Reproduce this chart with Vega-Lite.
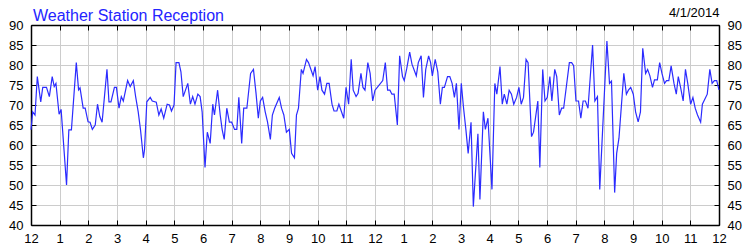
{
  "$schema": "https://vega.github.io/schema/vega-lite/v6.json",
  "width": 688,
  "height": 200,
  "autosize": {"type": "none"},
  "padding": {"left": 31, "top": 25, "right": 31, "bottom": 25},
  "background": "white",
  "title": {"text": "Weather Station Reception", "anchor": "start", "frame": "group", "color": "#2424ff", "font": "Liberation Sans", "fontSize": 16, "fontWeight": "normal", "offset": -17, "dx": 2},
  "config": {
    "view": {"stroke": null},
    "axis": {
      "domainColor": "#000000", "domainWidth": 1.5,
      "tickColor": "#000000", "tickSize": -5, "tickWidth": 1,
      "gridColor": "#cccccc", "gridWidth": 1,
      "labelFont": "Liberation Sans", "labelFontSize": 13, "labelColor": "#000000",
      "titleFont": "Liberation Sans", "titleFontSize": 13, "titleFontWeight": "normal", "titleColor": "#000000"
    }
  },
  "data": {"values": [
    {"hour": 0, "signal": 63.8}, {"hour": 0.06, "signal": 68.3}, {"hour": 0.14, "signal": 67.5}, {"hour": 0.22, "signal": 77.1},
    {"hour": 0.34, "signal": 70.8}, {"hour": 0.41, "signal": 74.4}, {"hour": 0.54, "signal": 74.4}, {"hour": 0.64, "signal": 72.1},
    {"hour": 0.74, "signal": 77.1}, {"hour": 0.81, "signal": 74.6}, {"hour": 0.87, "signal": 75.4}, {"hour": 0.98, "signal": 67.7},
    {"hour": 1.05, "signal": 68.9}, {"hour": 1.24, "signal": 50}, {"hour": 1.32, "signal": 63.8}, {"hour": 1.41, "signal": 63.8},
    {"hour": 1.58, "signal": 80.6}, {"hour": 1.66, "signal": 73.8}, {"hour": 1.71, "signal": 74.3}, {"hour": 1.82, "signal": 69.2},
    {"hour": 1.89, "signal": 69.2}, {"hour": 1.99, "signal": 65.8}, {"hour": 2.06, "signal": 65.7}, {"hour": 2.14, "signal": 63.9},
    {"hour": 2.24, "signal": 65}, {"hour": 2.32, "signal": 70.2}, {"hour": 2.40, "signal": 67.1}, {"hour": 2.48, "signal": 65.7},
    {"hour": 2.65, "signal": 78.9}, {"hour": 2.72, "signal": 70.8}, {"hour": 2.79, "signal": 70.8}, {"hour": 2.91, "signal": 74.4},
    {"hour": 2.98, "signal": 74.4}, {"hour": 3.07, "signal": 69.2}, {"hour": 3.15, "signal": 72.1}, {"hour": 3.22, "signal": 71},
    {"hour": 3.37, "signal": 76.1}, {"hour": 3.46, "signal": 74.6}, {"hour": 3.57, "signal": 76.1}, {"hour": 3.65, "signal": 72.1},
    {"hour": 3.74, "signal": 68.3}, {"hour": 3.82, "signal": 63.8}, {"hour": 3.92, "signal": 56.8}, {"hour": 3.96, "signal": 58.8},
    {"hour": 4.04, "signal": 70.8}, {"hour": 4.16, "signal": 71.9}, {"hour": 4.23, "signal": 71}, {"hour": 4.37, "signal": 70.7},
    {"hour": 4.46, "signal": 67.5}, {"hour": 4.54, "signal": 69}, {"hour": 4.63, "signal": 66.7}, {"hour": 4.75, "signal": 70.2},
    {"hour": 4.83, "signal": 70}, {"hour": 4.90, "signal": 68.5}, {"hour": 4.99, "signal": 70}, {"hour": 5.06, "signal": 80.6},
    {"hour": 5.16, "signal": 80.6}, {"hour": 5.23, "signal": 78.3}, {"hour": 5.31, "signal": 72.1}, {"hour": 5.47, "signal": 75.4},
    {"hour": 5.56, "signal": 70.2}, {"hour": 5.64, "signal": 72.1}, {"hour": 5.72, "signal": 70.2}, {"hour": 5.82, "signal": 72.7},
    {"hour": 5.90, "signal": 72.1}, {"hour": 5.97, "signal": 68.3}, {"hour": 6.07, "signal": 54.4}, {"hour": 6.15, "signal": 63.2},
    {"hour": 6.25, "signal": 60.4}, {"hour": 6.34, "signal": 70.2}, {"hour": 6.40, "signal": 67.5}, {"hour": 6.51, "signal": 73.7},
    {"hour": 6.60, "signal": 67.5}, {"hour": 6.67, "signal": 63.8}, {"hour": 6.74, "signal": 61.4}, {"hour": 6.83, "signal": 69.2},
    {"hour": 6.92, "signal": 65.7}, {"hour": 7.0, "signal": 65.7}, {"hour": 7.10, "signal": 63.9}, {"hour": 7.18, "signal": 63.9},
    {"hour": 7.25, "signal": 71.9}, {"hour": 7.35, "signal": 60.4}, {"hour": 7.42, "signal": 69.2}, {"hour": 7.53, "signal": 69.2},
    {"hour": 7.66, "signal": 77.9}, {"hour": 7.76, "signal": 78.9}, {"hour": 7.85, "signal": 72.9}, {"hour": 7.93, "signal": 66.7},
    {"hour": 8.0, "signal": 71}, {"hour": 8.08, "signal": 71.9}, {"hour": 8.17, "signal": 68.3}, {"hour": 8.25, "signal": 65.8},
    {"hour": 8.35, "signal": 61.4}, {"hour": 8.42, "signal": 67.5}, {"hour": 8.50, "signal": 69.2}, {"hour": 8.66, "signal": 71.9},
    {"hour": 8.74, "signal": 69.2}, {"hour": 8.82, "signal": 67.5}, {"hour": 8.91, "signal": 63.2}, {"hour": 9.01, "signal": 63.9},
    {"hour": 9.09, "signal": 57.9}, {"hour": 9.19, "signal": 56.8}, {"hour": 9.26, "signal": 67.5}, {"hour": 9.33, "signal": 69.2},
    {"hour": 9.43, "signal": 78.9}, {"hour": 9.49, "signal": 77.9}, {"hour": 9.61, "signal": 81.4}, {"hour": 9.68, "signal": 80.6},
    {"hour": 9.84, "signal": 77.3}, {"hour": 9.91, "signal": 79.6}, {"hour": 10.0, "signal": 73.7}, {"hour": 10.08, "signal": 77.1},
    {"hour": 10.15, "signal": 73.7}, {"hour": 10.24, "signal": 72.7}, {"hour": 10.32, "signal": 75.4}, {"hour": 10.40, "signal": 75.4},
    {"hour": 10.50, "signal": 70.2}, {"hour": 10.57, "signal": 68.5}, {"hour": 10.67, "signal": 68.5}, {"hour": 10.74, "signal": 70.2},
    {"hour": 10.91, "signal": 66.7}, {"hour": 10.99, "signal": 74.4}, {"hour": 11.08, "signal": 70.2}, {"hour": 11.17, "signal": 81.4},
    {"hour": 11.24, "signal": 73.7}, {"hour": 11.34, "signal": 72.1}, {"hour": 11.41, "signal": 72.9}, {"hour": 11.51, "signal": 77.9},
    {"hour": 11.58, "signal": 74.4}, {"hour": 11.65, "signal": 73.7}, {"hour": 11.75, "signal": 80.6}, {"hour": 11.83, "signal": 77.9},
    {"hour": 11.92, "signal": 71}, {"hour": 12.0, "signal": 73.7}, {"hour": 12.08, "signal": 74.4}, {"hour": 12.27, "signal": 76.1},
    {"hour": 12.36, "signal": 80.6}, {"hour": 12.44, "signal": 73.7}, {"hour": 12.52, "signal": 73.7}, {"hour": 12.59, "signal": 72.7},
    {"hour": 12.67, "signal": 72.7}, {"hour": 12.78, "signal": 65}, {"hour": 12.86, "signal": 82.3}, {"hour": 12.96, "signal": 77.1},
    {"hour": 13.02, "signal": 76.1}, {"hour": 13.11, "signal": 79.2}, {"hour": 13.21, "signal": 83.2}, {"hour": 13.29, "signal": 80.2},
    {"hour": 13.44, "signal": 77.3}, {"hour": 13.51, "signal": 80.6}, {"hour": 13.61, "signal": 82.3}, {"hour": 13.69, "signal": 71.9},
    {"hour": 13.77, "signal": 78.9}, {"hour": 13.87, "signal": 82.3}, {"hour": 13.94, "signal": 80.6}, {"hour": 14.0, "signal": 77.3},
    {"hour": 14.10, "signal": 81.4}, {"hour": 14.19, "signal": 78.3}, {"hour": 14.28, "signal": 70.2}, {"hour": 14.35, "signal": 74.4},
    {"hour": 14.42, "signal": 74.4}, {"hour": 14.53, "signal": 77.1}, {"hour": 14.61, "signal": 77.1}, {"hour": 14.69, "signal": 75.4},
    {"hour": 14.77, "signal": 71.9}, {"hour": 14.84, "signal": 75.4}, {"hour": 14.93, "signal": 63.9}, {"hour": 15.01, "signal": 75.4},
    {"hour": 15.09, "signal": 69.2}, {"hour": 15.17, "signal": 63.9}, {"hour": 15.25, "signal": 57.9}, {"hour": 15.35, "signal": 65.7},
    {"hour": 15.43, "signal": 44.6}, {"hour": 15.59, "signal": 62.8}, {"hour": 15.66, "signal": 46.4}, {"hour": 15.78, "signal": 68.3},
    {"hour": 15.85, "signal": 63.9}, {"hour": 15.94, "signal": 66.7}, {"hour": 16.08, "signal": 48.9}, {"hour": 16.18, "signal": 75.4},
    {"hour": 16.25, "signal": 72.7}, {"hour": 16.36, "signal": 79.6}, {"hour": 16.44, "signal": 70.2}, {"hour": 16.51, "signal": 72.7},
    {"hour": 16.60, "signal": 70.2}, {"hour": 16.68, "signal": 73.7}, {"hour": 16.76, "signal": 72.7}, {"hour": 16.84, "signal": 70.2},
    {"hour": 16.94, "signal": 71.9}, {"hour": 17.02, "signal": 74.4}, {"hour": 17.10, "signal": 70.2}, {"hour": 17.18, "signal": 71.9},
    {"hour": 17.27, "signal": 81.4}, {"hour": 17.34, "signal": 80.6}, {"hour": 17.46, "signal": 62.1}, {"hour": 17.53, "signal": 63.2},
    {"hour": 17.68, "signal": 71}, {"hour": 17.75, "signal": 54.4}, {"hour": 17.85, "signal": 78.9}, {"hour": 17.93, "signal": 71},
    {"hour": 18.01, "signal": 71.9}, {"hour": 18.10, "signal": 77.1}, {"hour": 18.17, "signal": 71}, {"hour": 18.27, "signal": 78.9},
    {"hour": 18.34, "signal": 77.1}, {"hour": 18.43, "signal": 67.5}, {"hour": 18.51, "signal": 69.2}, {"hour": 18.58, "signal": 69.2},
    {"hour": 18.78, "signal": 80.6}, {"hour": 18.86, "signal": 80.6}, {"hour": 18.93, "signal": 79.8}, {"hour": 19.01, "signal": 71},
    {"hour": 19.10, "signal": 71}, {"hour": 19.18, "signal": 66.7}, {"hour": 19.26, "signal": 71}, {"hour": 19.34, "signal": 71},
    {"hour": 19.43, "signal": 69.2}, {"hour": 19.59, "signal": 85}, {"hour": 19.67, "signal": 71}, {"hour": 19.76, "signal": 72.1},
    {"hour": 19.84, "signal": 48.9}, {"hour": 20.09, "signal": 86}, {"hour": 20.18, "signal": 75.4}, {"hour": 20.25, "signal": 76},
    {"hour": 20.36, "signal": 48.1}, {"hour": 20.43, "signal": 57.9}, {"hour": 20.51, "signal": 61.7}, {"hour": 20.68, "signal": 77.9},
    {"hour": 20.77, "signal": 72.7}, {"hour": 20.84, "signal": 73.7}, {"hour": 20.92, "signal": 74.4}, {"hour": 21.01, "signal": 72.7},
    {"hour": 21.09, "signal": 68.3}, {"hour": 21.18, "signal": 65.8}, {"hour": 21.26, "signal": 68.3}, {"hour": 21.34, "signal": 84.2},
    {"hour": 21.44, "signal": 77.9}, {"hour": 21.51, "signal": 78.9}, {"hour": 21.59, "signal": 77.3}, {"hour": 21.68, "signal": 74.4},
    {"hour": 21.75, "signal": 76.3}, {"hour": 21.85, "signal": 76.3}, {"hour": 21.93, "signal": 80.6}, {"hour": 22.01, "signal": 77.9},
    {"hour": 22.10, "signal": 75.4}, {"hour": 22.17, "signal": 76.1}, {"hour": 22.25, "signal": 76.1}, {"hour": 22.33, "signal": 79.8},
    {"hour": 22.43, "signal": 75.4}, {"hour": 22.51, "signal": 72.7}, {"hour": 22.58, "signal": 77.1}, {"hour": 22.66, "signal": 74.4},
    {"hour": 22.75, "signal": 71}, {"hour": 22.83, "signal": 78.9}, {"hour": 22.91, "signal": 75.4}, {"hour": 23.01, "signal": 70.2},
    {"hour": 23.09, "signal": 71.9}, {"hour": 23.17, "signal": 69.2}, {"hour": 23.25, "signal": 67.5}, {"hour": 23.36, "signal": 65.7},
    {"hour": 23.42, "signal": 70.2}, {"hour": 23.59, "signal": 72.7}, {"hour": 23.68, "signal": 78.9}, {"hour": 23.76, "signal": 75.4},
    {"hour": 23.84, "signal": 76.1}, {"hour": 23.92, "signal": 76.1}, {"hour": 24.0, "signal": 73.8}
  ]},
  "layer": [
    {
      "mark": {"type": "line", "color": "#2b2bff", "strokeWidth": 1.2},
      "encoding": {
        "x": {"field": "hour", "type": "quantitative", "scale": {"domain": [0, 24], "nice": false, "zero": false},
          "axis": {"orient": "bottom", "values": [0,1,2,3,4,5,6,7,8,9,10,11,12,13,14,15,16,17,18,19,20,21,22,23,24],
            "labelExpr": "datum.value % 12 == 0 ? '12' : '' + (datum.value % 12)", "labelPadding": 12, "labelFlush": false, "labelOverlap": false, "grid": true, "title": null}},
        "y": {"field": "signal", "type": "quantitative", "scale": {"domain": [40, 90], "nice": false, "zero": false},
          "axis": {"orient": "left", "values": [40,45,50,55,60,65,70,75,80,85,90], "labelPadding": 13, "labelFlush": false, "labelOverlap": false, "grid": true, "title": null}}
      }
    },
    {
      "mark": {"type": "line", "opacity": 0},
      "encoding": {
        "x": {"field": "hour", "type": "quantitative", "scale": {"domain": [0, 24], "nice": false, "zero": false},
          "axis": {"orient": "top", "values": [0,1,2,3,4,5,6,7,8,9,10,11,12,13,14,15,16,17,18,19,20,21,22,23,24],
            "labels": false, "grid": false, "title": "4/1/2014", "titleAnchor": "end", "titleAlign": "right", "titleBaseline": "alphabetic", "titlePadding": 8}},
        "y": {"field": "signal", "type": "quantitative", "scale": {"domain": [40, 90], "nice": false, "zero": false},
          "axis": {"orient": "right", "values": [40,45,50,55,60,65,70,75,80,85,90], "labelPadding": 13, "labelFlush": false, "labelOverlap": false, "grid": false, "title": null}}
      }
    }
  ],
  "resolve": {"axis": {"x": "independent", "y": "independent"}}
}
